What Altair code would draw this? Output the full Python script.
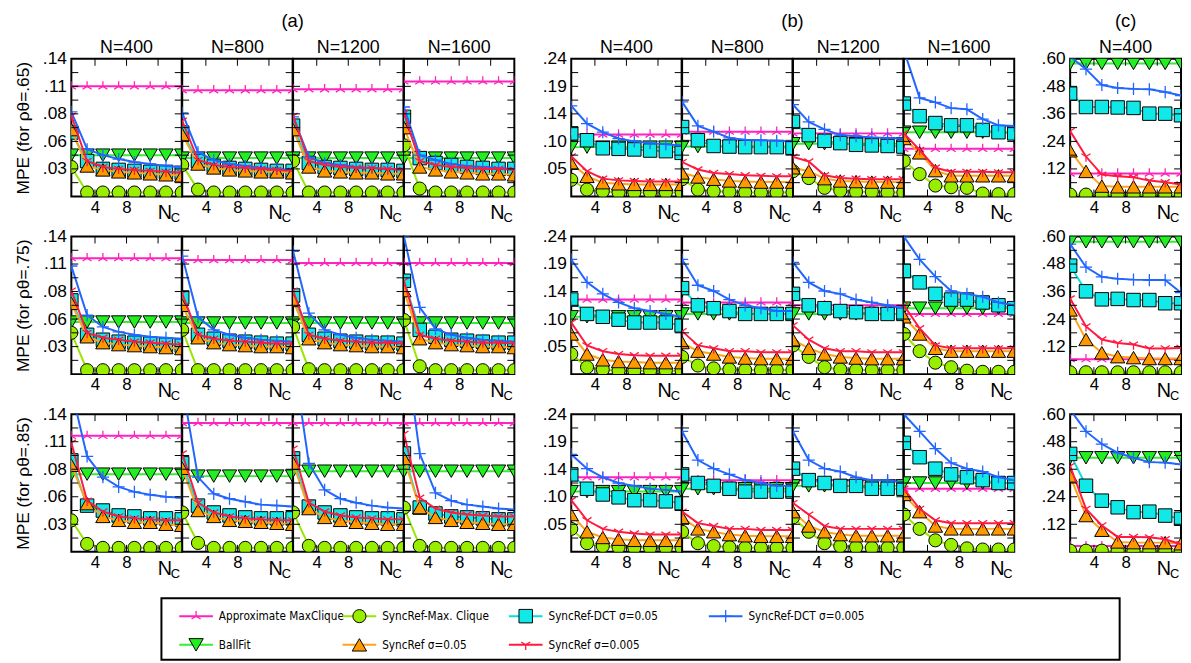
import altair as alt
import pandas as pd

FONT = "Liberation Sans, Arial, Helvetica, sans-serif"
NARROW = "DejaVu Sans Condensed, Liberation Sans Narrow, Arial Narrow, sans-serif"

# ---------------- data ----------------
X_NC = [1, 3, 5, 7, 9, 11, 13, 15]
N_TITLES = ["N=400", "N=800", "N=1200", "N=1600"]
RHO = [".65", ".75", ".85"]
Y_MAX = {"a": 0.14, "b": 0.24, "c": 0.60}
GROUP_TITLES = {"a": "(a)", "b": "(b)", "c": "(c)"}

# ----- (a), rho=.65 -----
a65_approx = [[0.112, 0.112, 0.112, 0.112, 0.112, 0.112, 0.112, 0.112],
              [0.108, 0.108, 0.108, 0.108, 0.108, 0.108, 0.108, 0.108],
              [0.109, 0.109, 0.109, 0.109, 0.109, 0.109, 0.109, 0.109],
              [0.117, 0.117, 0.117, 0.117, 0.117, 0.117, 0.117, 0.117]]
a65_ballfit = [[0.042, 0.042, 0.042, 0.042, 0.042, 0.042, 0.042, 0.042],
               [0.039, 0.039, 0.039, 0.039, 0.039, 0.039, 0.039, 0.039],
               [0.039, 0.039, 0.039, 0.039, 0.039, 0.039, 0.039, 0.039],
               [0.039, 0.039, 0.039, 0.039, 0.039, 0.039, 0.039, 0.039]]
a65_mc = [[0.030, 0.004, 0.004, 0.004, 0.004, 0.004, 0.004, 0.004],
          [0.032, 0.007, 0.004, 0.004, 0.004, 0.004, 0.004, 0.004],
          [0.036, 0.004, 0.004, 0.004, 0.004, 0.004, 0.004, 0.004],
          [0.052, 0.008, 0.004, 0.004, 0.004, 0.004, 0.004, 0.004]]
a65_dct05 = [[0.065, 0.036, 0.028, 0.027, 0.026, 0.025, 0.025, 0.024],
             [0.065, 0.036, 0.031, 0.029, 0.028, 0.027, 0.026, 0.026],
             [0.072, 0.034, 0.030, 0.029, 0.028, 0.027, 0.027, 0.026],
             [0.081, 0.039, 0.034, 0.032, 0.030, 0.029, 0.028, 0.028]]
a65_ref05 = [[0.068, 0.031, 0.027, 0.025, 0.024, 0.023, 0.022, 0.021],
             [0.063, 0.033, 0.029, 0.027, 0.026, 0.025, 0.025, 0.024],
             [0.068, 0.030, 0.026, 0.025, 0.024, 0.024, 0.023, 0.023],
             [0.070, 0.030, 0.027, 0.025, 0.024, 0.023, 0.023, 0.022]]
a65_dct005 = [[0.086, 0.048, 0.042, 0.038, 0.035, 0.033, 0.031, 0.030],
              [0.085, 0.045, 0.037, 0.033, 0.031, 0.029, 0.028, 0.027],
              [0.081, 0.040, 0.034, 0.032, 0.030, 0.029, 0.028, 0.028],
              [0.091, 0.042, 0.037, 0.033, 0.031, 0.030, 0.029, 0.028]]
a65_ref005 = [[0.082, 0.036, 0.030, 0.028, 0.027, 0.026, 0.025, 0.024],
              [0.077, 0.037, 0.032, 0.030, 0.029, 0.028, 0.027, 0.026],
              [0.082, 0.036, 0.032, 0.030, 0.029, 0.029, 0.028, 0.027],
              [0.085, 0.036, 0.032, 0.030, 0.029, 0.028, 0.028, 0.027]]

# ----- (a), rho=.75 -----
a75_approx = [[0.118, 0.118, 0.118, 0.118, 0.118, 0.118, 0.118, 0.118],
              [0.116, 0.116, 0.116, 0.116, 0.116, 0.116, 0.116, 0.116],
              [0.113, 0.113, 0.113, 0.113, 0.113, 0.113, 0.113, 0.113],
              [0.113, 0.113, 0.113, 0.113, 0.113, 0.113, 0.113, 0.113]]
a75_ballfit = [[0.053, 0.053, 0.053, 0.053, 0.053, 0.053, 0.053, 0.053],
               [0.052, 0.052, 0.052, 0.052, 0.052, 0.052, 0.052, 0.052],
               [0.052, 0.052, 0.052, 0.052, 0.052, 0.052, 0.052, 0.052],
               [0.052, 0.052, 0.052, 0.052, 0.052, 0.052, 0.052, 0.052]]
a75_mc = [[0.042, 0.004, 0.004, 0.004, 0.004, 0.004, 0.004, 0.004],
          [0.045, 0.004, 0.004, 0.004, 0.004, 0.004, 0.004, 0.004],
          [0.048, 0.005, 0.004, 0.004, 0.004, 0.004, 0.004, 0.004],
          [0.055, 0.008, 0.004, 0.004, 0.004, 0.004, 0.004, 0.004]]
a75_dct05 = [[0.075, 0.040, 0.035, 0.033, 0.032, 0.031, 0.030, 0.029],
             [0.078, 0.040, 0.036, 0.034, 0.033, 0.032, 0.031, 0.031],
             [0.080, 0.040, 0.036, 0.034, 0.033, 0.032, 0.032, 0.031],
             [0.095, 0.045, 0.038, 0.035, 0.034, 0.033, 0.032, 0.032]]
a75_ref05 = [[0.072, 0.038, 0.032, 0.030, 0.029, 0.028, 0.027, 0.026],
             [0.070, 0.037, 0.032, 0.030, 0.029, 0.028, 0.028, 0.027],
             [0.075, 0.036, 0.032, 0.030, 0.029, 0.028, 0.028, 0.027],
             [0.085, 0.036, 0.032, 0.030, 0.029, 0.028, 0.028, 0.027]]
a75_dct005 = [[0.110, 0.060, 0.048, 0.043, 0.040, 0.038, 0.037, 0.036],
              [0.120, 0.058, 0.045, 0.040, 0.037, 0.035, 0.034, 0.033],
              [0.125, 0.062, 0.045, 0.040, 0.037, 0.035, 0.034, 0.033],
              [0.140, 0.068, 0.046, 0.040, 0.037, 0.035, 0.034, 0.033]]
a75_ref005 = [[0.085, 0.042, 0.037, 0.035, 0.033, 0.032, 0.031, 0.030],
              [0.082, 0.040, 0.036, 0.034, 0.033, 0.032, 0.031, 0.031],
              [0.085, 0.040, 0.036, 0.034, 0.033, 0.032, 0.032, 0.031],
              [0.095, 0.040, 0.036, 0.034, 0.033, 0.032, 0.032, 0.031]]

# ----- (a), rho=.85 -----
a85_approx = [[0.118, 0.118, 0.118, 0.118, 0.118, 0.118, 0.118, 0.118],
              [0.131, 0.131, 0.131, 0.131, 0.131, 0.131, 0.131, 0.131],
              [0.131, 0.131, 0.131, 0.131, 0.131, 0.131, 0.131, 0.131],
              [0.131, 0.131, 0.131, 0.131, 0.131, 0.131, 0.131, 0.131]]
a85_ballfit = [[0.079, 0.079, 0.079, 0.079, 0.079, 0.079, 0.079, 0.079],
               [0.077, 0.077, 0.077, 0.077, 0.077, 0.077, 0.077, 0.077],
               [0.082, 0.082, 0.082, 0.082, 0.082, 0.082, 0.082, 0.082],
               [0.082, 0.082, 0.082, 0.082, 0.082, 0.082, 0.082, 0.082]]
a85_mc = [[0.032, 0.008, 0.004, 0.004, 0.004, 0.004, 0.004, 0.004],
          [0.040, 0.009, 0.004, 0.004, 0.004, 0.004, 0.004, 0.004],
          [0.040, 0.006, 0.004, 0.004, 0.004, 0.004, 0.004, 0.004],
          [0.045, 0.006, 0.004, 0.004, 0.004, 0.004, 0.004, 0.004]]
a85_dct05 = [[0.093, 0.047, 0.042, 0.037, 0.036, 0.034, 0.034, 0.033],
             [0.090, 0.047, 0.040, 0.037, 0.035, 0.034, 0.034, 0.034],
             [0.095, 0.046, 0.040, 0.037, 0.035, 0.034, 0.034, 0.033],
             [0.100, 0.045, 0.039, 0.036, 0.035, 0.034, 0.033, 0.033]]
a85_ref05 = [[0.088, 0.049, 0.036, 0.032, 0.030, 0.030, 0.028, 0.027],
             [0.085, 0.042, 0.036, 0.032, 0.031, 0.030, 0.029, 0.028],
             [0.090, 0.044, 0.035, 0.032, 0.030, 0.029, 0.028, 0.028],
             [0.095, 0.045, 0.035, 0.032, 0.030, 0.029, 0.028, 0.028]]
a85_dct005 = [[0.165, 0.097, 0.076, 0.066, 0.061, 0.058, 0.056, 0.055],
              [0.170, 0.076, 0.059, 0.054, 0.051, 0.048, 0.047, 0.046],
              [0.200, 0.090, 0.063, 0.054, 0.050, 0.047, 0.045, 0.044],
              [0.220, 0.100, 0.060, 0.052, 0.048, 0.046, 0.044, 0.043]]
a85_ref005 = [[0.111, 0.052, 0.041, 0.036, 0.034, 0.033, 0.032, 0.032],
              [0.100, 0.050, 0.040, 0.036, 0.034, 0.033, 0.032, 0.032],
              [0.105, 0.050, 0.041, 0.037, 0.035, 0.034, 0.033, 0.033],
              [0.120, 0.055, 0.044, 0.040, 0.038, 0.037, 0.036, 0.036]]

# ----- (b), rho=.65 -----
b65_approx = [[0.108, 0.108, 0.108, 0.108, 0.108, 0.108, 0.108, 0.108],
              [0.113, 0.113, 0.113, 0.113, 0.113, 0.113, 0.113, 0.113],
              [0.110, 0.110, 0.110, 0.110, 0.110, 0.110, 0.110, 0.110],
              [0.083, 0.083, 0.083, 0.083, 0.083, 0.083, 0.083, 0.083]]
b65_ballfit = [[0.086, 0.086, 0.086, 0.086, 0.086, 0.086, 0.086, 0.086],
               [0.087, 0.087, 0.087, 0.087, 0.087, 0.087, 0.087, 0.087],
               [0.092, 0.092, 0.092, 0.092, 0.092, 0.092, 0.092, 0.092],
               [0.112, 0.112, 0.112, 0.112, 0.112, 0.112, 0.112, 0.112]]
b65_mc = [[0.029, 0.012, 0.009, 0.007, 0.007, 0.007, 0.007, 0.007],
          [0.030, 0.012, 0.009, 0.008, 0.007, 0.007, 0.007, 0.007],
          [0.044, 0.032, 0.015, 0.010, 0.008, 0.008, 0.007, 0.007],
          [0.062, 0.039, 0.019, 0.016, 0.015, 0.005, 0.004, 0.004]]
b65_dct05 = [[0.110, 0.098, 0.084, 0.083, 0.082, 0.080, 0.079, 0.076],
             [0.121, 0.098, 0.088, 0.087, 0.086, 0.086, 0.086, 0.085],
             [0.130, 0.107, 0.097, 0.093, 0.090, 0.089, 0.088, 0.087],
             [0.162, 0.140, 0.128, 0.124, 0.124, 0.116, 0.112, 0.110]]
b65_ref05 = [[0.058, 0.035, 0.024, 0.022, 0.021, 0.021, 0.021, 0.021],
             [0.041, 0.034, 0.030, 0.027, 0.026, 0.025, 0.025, 0.025],
             [0.050, 0.044, 0.031, 0.027, 0.026, 0.025, 0.025, 0.025],
             [0.101, 0.076, 0.045, 0.036, 0.036, 0.036, 0.036, 0.036]]
b65_dct005 = [[0.158, 0.127, 0.112, 0.101, 0.096, 0.093, 0.091, 0.089],
              [0.165, 0.123, 0.113, 0.102, 0.099, 0.098, 0.097, 0.096],
              [0.160, 0.130, 0.117, 0.107, 0.105, 0.103, 0.102, 0.101],
              [0.255, 0.172, 0.164, 0.154, 0.152, 0.135, 0.124, 0.123]]
b65_ref005 = [[0.070, 0.044, 0.031, 0.028, 0.027, 0.026, 0.026, 0.026],
              [0.060, 0.047, 0.041, 0.039, 0.037, 0.036, 0.035, 0.035],
              [0.069, 0.061, 0.037, 0.032, 0.031, 0.030, 0.030, 0.030],
              [0.110, 0.081, 0.050, 0.043, 0.043, 0.043, 0.042, 0.042]]

# ----- (b), rho=.75 -----
b75_approx = [[0.130, 0.130, 0.130, 0.130, 0.130, 0.130, 0.130, 0.130],
              [0.125, 0.125, 0.125, 0.125, 0.125, 0.125, 0.125, 0.125],
              [0.120, 0.120, 0.120, 0.120, 0.120, 0.120, 0.120, 0.120],
              [0.105, 0.105, 0.105, 0.105, 0.105, 0.105, 0.105, 0.105]]
b75_ballfit = [[0.100, 0.100, 0.100, 0.100, 0.100, 0.100, 0.100, 0.100],
               [0.105, 0.105, 0.105, 0.105, 0.105, 0.105, 0.105, 0.105],
               [0.105, 0.105, 0.105, 0.105, 0.105, 0.105, 0.105, 0.105],
               [0.115, 0.115, 0.115, 0.115, 0.115, 0.115, 0.115, 0.115]]
b75_mc = [[0.035, 0.012, 0.008, 0.006, 0.006, 0.006, 0.006, 0.006],
          [0.030, 0.015, 0.010, 0.008, 0.007, 0.007, 0.007, 0.007],
          [0.050, 0.030, 0.012, 0.008, 0.007, 0.007, 0.007, 0.007],
          [0.070, 0.040, 0.020, 0.012, 0.006, 0.004, 0.004, 0.004]]
b75_dct05 = [[0.130, 0.105, 0.100, 0.095, 0.090, 0.090, 0.090, 0.085],
             [0.150, 0.120, 0.115, 0.110, 0.105, 0.105, 0.105, 0.105],
             [0.140, 0.120, 0.115, 0.110, 0.108, 0.105, 0.105, 0.105],
             [0.180, 0.160, 0.140, 0.130, 0.130, 0.125, 0.120, 0.115]]
b75_ref05 = [[0.070, 0.035, 0.025, 0.022, 0.021, 0.020, 0.020, 0.020],
             [0.055, 0.040, 0.035, 0.030, 0.028, 0.027, 0.027, 0.027],
             [0.060, 0.045, 0.035, 0.030, 0.028, 0.027, 0.027, 0.027],
             [0.100, 0.070, 0.045, 0.040, 0.040, 0.040, 0.040, 0.040]]
b75_dct005 = [[0.200, 0.160, 0.140, 0.125, 0.115, 0.110, 0.105, 0.100],
              [0.200, 0.155, 0.145, 0.130, 0.120, 0.115, 0.110, 0.110],
              [0.195, 0.160, 0.145, 0.140, 0.130, 0.125, 0.120, 0.115],
              [0.240, 0.200, 0.170, 0.145, 0.140, 0.135, 0.125, 0.120]]
b75_ref005 = [[0.090, 0.050, 0.040, 0.035, 0.033, 0.032, 0.032, 0.032],
              [0.075, 0.050, 0.045, 0.040, 0.040, 0.038, 0.038, 0.038],
              [0.085, 0.060, 0.045, 0.040, 0.040, 0.038, 0.038, 0.038],
              [0.120, 0.080, 0.050, 0.045, 0.045, 0.045, 0.045, 0.045]]

# ----- (b), rho=.85 -----
b85_approx = [[0.130, 0.130, 0.130, 0.130, 0.130, 0.130, 0.130, 0.130],
              [0.125, 0.125, 0.125, 0.125, 0.125, 0.125, 0.125, 0.125],
              [0.125, 0.125, 0.125, 0.125, 0.125, 0.125, 0.125, 0.125],
              [0.110, 0.110, 0.110, 0.110, 0.110, 0.110, 0.110, 0.110]]
b85_ballfit = [[0.105, 0.105, 0.105, 0.105, 0.105, 0.105, 0.105, 0.105],
               [0.110, 0.110, 0.110, 0.110, 0.110, 0.110, 0.110, 0.110],
               [0.115, 0.115, 0.115, 0.115, 0.115, 0.115, 0.115, 0.115],
               [0.120, 0.120, 0.120, 0.120, 0.120, 0.120, 0.120, 0.120]]
b85_mc = [[0.040, 0.015, 0.010, 0.008, 0.007, 0.007, 0.007, 0.007],
          [0.035, 0.015, 0.010, 0.008, 0.007, 0.007, 0.007, 0.007],
          [0.060, 0.035, 0.015, 0.010, 0.008, 0.007, 0.007, 0.007],
          [0.065, 0.040, 0.020, 0.012, 0.006, 0.004, 0.004, 0.004]]
b85_dct05 = [[0.135, 0.110, 0.100, 0.095, 0.090, 0.090, 0.088, 0.085],
             [0.135, 0.120, 0.115, 0.110, 0.105, 0.105, 0.105, 0.105],
             [0.145, 0.125, 0.120, 0.115, 0.115, 0.110, 0.110, 0.110],
             [0.190, 0.165, 0.145, 0.135, 0.130, 0.125, 0.120, 0.120]]
b85_ref05 = [[0.065, 0.035, 0.025, 0.022, 0.020, 0.020, 0.020, 0.020],
             [0.060, 0.040, 0.035, 0.030, 0.028, 0.027, 0.027, 0.027],
             [0.070, 0.045, 0.035, 0.030, 0.028, 0.028, 0.028, 0.028],
             [0.100, 0.070, 0.045, 0.040, 0.040, 0.040, 0.040, 0.040]]
b85_dct005 = [[0.170, 0.145, 0.130, 0.120, 0.115, 0.110, 0.108, 0.105],
              [0.210, 0.160, 0.145, 0.135, 0.125, 0.120, 0.115, 0.115],
              [0.210, 0.160, 0.145, 0.140, 0.130, 0.125, 0.125, 0.120],
              [0.240, 0.210, 0.180, 0.155, 0.145, 0.140, 0.130, 0.125]]
b85_ref005 = [[0.090, 0.055, 0.040, 0.035, 0.032, 0.030, 0.030, 0.030],
              [0.070, 0.050, 0.045, 0.040, 0.040, 0.038, 0.038, 0.038],
              [0.085, 0.065, 0.045, 0.040, 0.040, 0.040, 0.040, 0.040],
              [0.110, 0.075, 0.055, 0.050, 0.050, 0.050, 0.050, 0.050]]

# ----- (c), N=400 -----
c65_approx = [[0.100, 0.100, 0.100, 0.100, 0.100, 0.100, 0.100, 0.100]]
c65_ballfit = [[0.580, 0.580, 0.580, 0.580, 0.580, 0.580, 0.580, 0.580]]
c65_mc = [[0.008, 0.008, 0.008, 0.008, 0.008, 0.008, 0.008, 0.008]]
c65_dct05 = [[0.448, 0.390, 0.390, 0.388, 0.386, 0.361, 0.361, 0.354]]
c65_ref05 = [[0.199, 0.109, 0.045, 0.042, 0.042, 0.042, 0.042, 0.042]]
c65_dct005 = [[0.610, 0.555, 0.486, 0.473, 0.469, 0.467, 0.455, 0.440]]
c65_ref005 = [[0.285, 0.174, 0.095, 0.088, 0.084, 0.069, 0.062, 0.052]]

c75_approx = [[0.065, 0.065, 0.065, 0.065, 0.065, 0.065, 0.065, 0.065]]
c75_ballfit = [[0.577, 0.577, 0.577, 0.577, 0.577, 0.577, 0.577, 0.577]]
c75_mc = [[0.008, 0.008, 0.008, 0.008, 0.008, 0.008, 0.008, 0.008]]
c75_dct05 = [[0.473, 0.361, 0.326, 0.328, 0.323, 0.323, 0.309, 0.309]]
c75_ref05 = [[0.280, 0.151, 0.093, 0.076, 0.072, 0.068, 0.068, 0.068]]
c75_dct005 = [[0.567, 0.467, 0.424, 0.416, 0.412, 0.410, 0.410, 0.355]]
c75_ref005 = [[0.330, 0.208, 0.151, 0.136, 0.129, 0.112, 0.112, 0.114]]

c85_approx = [[0.025, 0.025, 0.025, 0.025, 0.025, 0.025, 0.025, 0.025]]
c85_ballfit = [[0.410, 0.410, 0.410, 0.410, 0.410, 0.410, 0.410, 0.410]]
c85_mc = [[0.005, 0.005, 0.005, 0.005, 0.005, 0.005, 0.005, 0.005]]
c85_dct05 = [[0.427, 0.288, 0.223, 0.194, 0.173, 0.175, 0.158, 0.144]]
c85_ref05 = [[0.331, 0.158, 0.094, 0.043, 0.040, 0.040, 0.040, 0.035]]
c85_dct005 = [[0.620, 0.525, 0.470, 0.432, 0.410, 0.391, 0.389, 0.381]]
c85_ref005 = [[0.374, 0.187, 0.115, 0.065, 0.065, 0.063, 0.055, 0.033]]

# series names, in drawing order
S_APPROX = "Approximate MaxClique"
S_BALL = "BallFit"
S_MC = "SyncRef-Max. Clique"
S_DCT05 = "SyncRef-DCT σ=0.05"
S_REF05 = "SyncRef σ=0.05"
S_DCT005 = "SyncRef-DCT σ=0.005"
S_REF005 = "SyncRef σ=0.005"
DRAW_ORDER = [S_APPROX, S_BALL, S_MC, S_DCT05, S_REF05, S_DCT005, S_REF005]

G = globals()


def series_for(group, rho, col):
    key = group + rho.replace(".", "")
    return {
        S_APPROX: G[key + "_approx"][col],
        S_BALL: G[key + "_ballfit"][col],
        S_MC: G[key + "_mc"][col],
        S_DCT05: G[key + "_dct05"][col],
        S_REF05: G[key + "_ref05"][col],
        S_DCT005: G[key + "_dct005"][col],
        S_REF005: G[key + "_ref005"][col],
    }


# ---------------- styles ----------------
INV_Y = "M0,-1L0,0M0,0L-0.87,0.55M0,0L0.87,0.55"
Y_SHAPE = "M0,1L0,0M0,0L-0.87,-0.55M0,0L0.87,-0.55"
PLUS = "M-1,0L1,0M0,-1L0,1"
STYLE = {
    S_APPROX: dict(line="#ff22bb", fill=None, shape=INV_Y, size=110, sw=1.3),
    S_BALL: dict(line="#33ee33", fill="#22ee22", shape="triangle-down", size=210, sw=1),
    S_MC: dict(line="#99e600", fill="#99ee00", shape="circle", size=175, sw=1),
    S_DCT05: dict(line="#00e0e0", fill="#11e8e8", shape="square", size=185, sw=1),
    S_REF05: dict(line="#ffa31a", fill="#ff9900", shape="triangle-up", size=210, sw=1),
    S_DCT005: dict(line="#2266ff", fill=None, shape=PLUS, size=150, sw=1.3),
    S_REF005: dict(line="#ff1a40", fill=None, shape=Y_SHAPE, size=110, sw=1.3),
}

W = 111.5
WC = 112
H = 139
GAP_AB = 57
GAP_BC = 56
ROW_GAP = 40.5


def point_mark(base, st, X, Y, clip=True):
    if st["fill"] is None:
        return base.mark_point(shape=st["shape"], size=st["size"], filled=False,
                               stroke=st["line"], strokeWidth=st["sw"], opacity=1,
                               clip=clip).encode(x=X, y=Y)
    return base.mark_point(shape=st["shape"], size=st["size"], filled=True,
                           fill=st["fill"], stroke="black", strokeWidth=1,
                           opacity=1, clip=clip).encode(x=X, y=Y)


def text_layer(txt, x, y, size, baseline="middle"):
    return alt.Chart(pd.DataFrame({"t": [txt]})).mark_text(
        fontSize=size, font=FONT, baseline=baseline, align="center", color="black").encode(
        x=alt.value(x), y=alt.value(y), text="t:N")


def legend_layer():
    names = [S_APPROX, S_BALL, S_MC, S_REF05, S_DCT05, S_REF005, S_DCT005]
    cols = [0, 0, 1, 1, 2, 2, 3]
    rows = [0, 1, 0, 1, 0, 1, 0]
    # positions relative to the bottom-left panel's plot area
    lx = alt.Scale(domain=[0, 1, 2, 3], range=[126, 291, 459, 661])
    ly = alt.Scale(domain=[0, 1], range=[204, 233])
    layers = [alt.Chart(pd.DataFrame({"a": [0]})).mark_rect(
        fill=None, stroke="black", strokeWidth=2).encode(
        x=alt.value(91), x2=alt.value(1059), y=alt.value(186), y2=alt.value(248))]
    for name, c, r in zip(names, cols, rows):
        st = STYLE[name]
        base = alt.Chart(pd.DataFrame({"col": [c], "row": [r], "name": [name]}))
        LX = alt.X("col:Q", scale=lx, axis=None)
        LY = alt.Y("row:Q", scale=ly, axis=None)
        layers.append(base.mark_tick(orient="horizontal", size=34, thickness=2,
                                     color=st["line"], opacity=1).encode(x=LX, y=LY))
        layers.append(point_mark(base, st, LX, LY, clip=False))
        layers.append(base.mark_text(align="left", baseline="middle", dx=23, fontSize=11.8,
                                     font=NARROW, color="black").encode(
            x=LX, y=LY, text="name:N"))
    return alt.layer(*layers)


def panel(group, rho, col, ri, width):
    ymax = Y_MAX[group]
    vals = series_for(group, rho, col)
    xs = alt.Scale(domain=[1, 15], nice=False, zero=False)
    ys = alt.Scale(domain=[0, ymax], nice=False, zero=True)
    xaxis = alt.Axis(values=[4, 8], title=None, ticks=False, domain=False, grid=False,
                     labelFontSize=17, labelPadding=3, labelAngle=0, labelFlush=False)
    if col == 0:
        ytitle = ("MPE (for ρθ=" + rho + ")") if group == "a" else None
        yaxis = alt.Axis(values=[ymax * k / 5 for k in range(1, 6)],
                         labelExpr="replace(format(datum.value, '.2f'), '0.', '.')",
                         title=ytitle, ticks=False, domain=False, grid=False,
                         labelFontSize=17.5, labelPadding=5, titleFontSize=17.5,
                         titlePadding=10, titleFontWeight="normal")
    else:
        yaxis = None
    X = alt.X("x:Q", scale=xs, axis=xaxis)
    Y = alt.Y("y:Q", scale=ys, axis=yaxis)

    layers = []
    for name in DRAW_ORDER:
        st = STYLE[name]
        base = alt.Chart(pd.DataFrame({"x": X_NC, "y": vals[name]}))
        layers.append(base.mark_line(color=st["line"], strokeWidth=2, clip=True).encode(x=X, y=Y))
        layers.append(point_mark(base, st, X, Y))
    # inward ticks, mirrored on all sides
    yt = pd.DataFrame({"y": [ymax * k / 10 for k in range(1, 10)]})
    xt = pd.DataFrame({"x": [4, 8, 12]})
    layers.append(alt.Chart(yt).mark_rule(color="black", strokeWidth=1).encode(
        y=Y, x=alt.value(0), x2=alt.value(7)))
    layers.append(alt.Chart(yt).mark_rule(color="black", strokeWidth=1).encode(
        y=Y, x=alt.value(width - 7), x2=alt.value(width)))
    layers.append(alt.Chart(xt).mark_rule(color="black", strokeWidth=1).encode(
        x=X, y=alt.value(0), y2=alt.value(7)))
    layers.append(alt.Chart(xt).mark_rule(color="black", strokeWidth=1).encode(
        x=X, y=alt.value(H - 7), y2=alt.value(H)))
    # N_C label
    layers.append(alt.Chart(pd.DataFrame({"x": [12.85], "t": ["N"]})).mark_text(
        fontSize=20, font=FONT, baseline="alphabetic", align="center", color="black").encode(
        x=X, y=alt.value(H + 23), text="t:N"))
    layers.append(alt.Chart(pd.DataFrame({"x": [14.2], "t": ["C"]})).mark_text(
        fontSize=13, font=FONT, baseline="alphabetic", align="center", color="black").encode(
        x=X, y=alt.value(H + 26), text="t:N"))
    # titles
    if ri == 0:
        layers.append(text_layer(N_TITLES[col], width / 2, -11, 18))
        if group in ("a", "b") and col == 1:
            layers.append(text_layer(GROUP_TITLES[group], width, -38, 18.5))
        if group == "c":
            layers.append(text_layer(GROUP_TITLES[group], width / 2, -38, 18.5))

    ch = alt.layer(*layers)
    if group == "a" and col == 0 and ri == 2:
        ch = alt.layer(ch, legend_layer()).resolve_scale(x="independent", y="independent")
    return ch.properties(width=width, height=H)


def spacer(width):
    return alt.Chart(pd.DataFrame({"a": [0]})).mark_rule(opacity=0).encode(
        x=alt.value(0), y=alt.value(0)).properties(
        width=width, height=H, view=alt.ViewBackground(stroke="transparent", strokeWidth=0))


cells = []
for ri, rho in enumerate(RHO):
    for c in range(4):
        cells.append(panel("a", rho, c, ri, W))
    cells.append(spacer(GAP_AB))
    for c in range(4):
        cells.append(panel("b", rho, c, ri, W))
    cells.append(spacer(GAP_BC))
    cells.append(panel("c", rho, 0, ri, WC))

chart = alt.concat(*cells, columns=11, spacing={"row": ROW_GAP, "column": 0},
                   bounds="flush").properties(
    padding={"left": 5, "top": 0, "right": 0, "bottom": 0}
).configure_view(stroke="black", strokeWidth=2).configure_axis(
    labelFont=FONT, titleFont=FONT, labelColor="black", titleColor="black"
)

chart.save("out.html", embed_options={"renderer": "svg", "actions": False})
